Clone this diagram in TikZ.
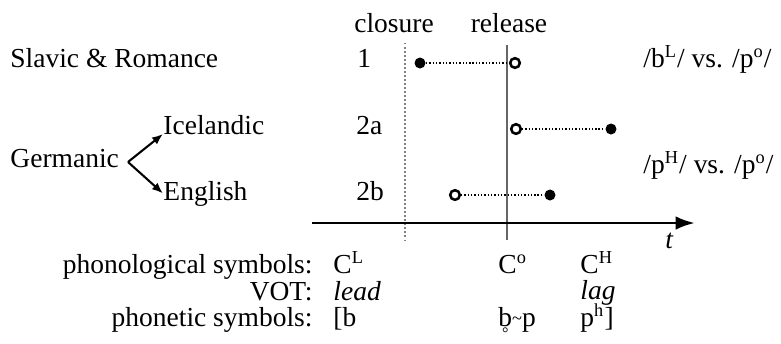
\documentclass[tikz,border=0pt]{standalone}
\usepackage{fontspec}
\setmainfont{Liberation Serif}
\usetikzlibrary{arrows.meta}
\newcommand{\ringb}{{\ooalign{b\cr\hidewidth\raisebox{-5.5pt}{\scriptsize°}\hidewidth\cr}}}
\begin{document}
\begin{tikzpicture}[x=0.4364pt,y=-0.4364pt,font=\fontsize{12}{14}\selectfont,
    lbl/.style={anchor=base west,inner sep=0pt},
    rlbl/.style={anchor=base east,inner sep=0pt},
    closed/.style={circle,fill,inner sep=0pt,minimum size=4.8pt},
    open/.style={circle,draw,fill=white,line width=1.1pt,inner sep=0pt,minimum size=4.2pt},
    gap/.style={line width=0.6pt,dash pattern=on 0.6pt off 0.85pt},
    branch/.style={line width=0.9pt,-{Latex[length=4.8pt,width=3.8pt]}}]
    \useasboundingbox (0,0) rectangle (781,343);
    %% reference lines
    \draw[gray,line width=0.65pt,dash pattern=on 0.65pt off 1.1pt] (405,43) -- (405,240);
    \draw[gray!80!black,line width=0.65pt] (507,45) -- (507,240);
    \node[anchor=base] (closure) at (394,32) {closure};
    \node[anchor=base] (release) at (509,32) {release};
    %% time axis
    \draw[line width=1.3pt,-{Latex[length=8.5pt,width=6pt]}] (312,223) -- (695,223);
    \node[lbl] (t) at (665,248) {\itshape t};
    %% languages
    \node[lbl] (slavic) at (10,67) {Slavic \& Romance};
    \node[lbl] (germanic) at (10,167) {Germanic};
    \node[lbl] (icelandic) at (163,134) {Icelandic};
    \node[lbl] (english) at (163,200) {English};
    \coordinate (fork) at (128,162);
    \draw[branch] (fork) -- (icelandic.base west);
    \draw[branch] (fork) -- (english.west);
    %% rows
    \node[lbl] (r1) at (357,67) {1};
    \node[lbl] (r2a) at (356,134) {2a};
    \node[lbl] (r2b) at (356,200) {2b};
    \node[closed] (c1) at (420,63) {};
    \node[open] (o1) at (515,63) {};
    \node[open] (o2a) at (516,129) {};
    \node[closed] (c2a) at (611,129) {};
    \node[open] (o2b) at (455,195) {};
    \node[closed] (c2b) at (550,195) {};
    \draw[gap] (c1) -- (o1);
    \draw[gap] (o2a) -- (c2a);
    \draw[gap] (o2b) -- (c2b);
    %% contrasts
    \node[lbl] (lead) at (643,67) {/b\textsuperscript{L}/ vs. /p\textsuperscript{o}/};
    \node[lbl] (lag) at (643,173) {/p\textsuperscript{H}/ vs. /p\textsuperscript{o}/};
    %% table below the axis
    \node[rlbl] (phonol) at (313,273) {phonological symbols:};
    \node[rlbl] (vot) at (313,300) {VOT:};
    \node[rlbl] (phonet) at (313,326) {phonetic symbols:};
    \node[lbl] (cl) at (333,273) {C\textsuperscript{L}};
    \node[lbl] (co) at (498,273) {C\textsuperscript{o}};
    \node[lbl] (ch) at (580,273) {C\textsuperscript{H}};
    \node[lbl] (vlead) at (333,300) {\itshape lead};
    \node[lbl] (vlag) at (580,299) {\itshape lag};
    \node[lbl] (pb) at (333,326) {[b};
    \node[lbl] (pp) at (498,326) {\ringb\raisebox{0.8pt}{\footnotesize\textasciitilde}p};
    \node[lbl] (ph) at (580,326) {p\textsuperscript{h}]};
\end{tikzpicture}
\end{document}
